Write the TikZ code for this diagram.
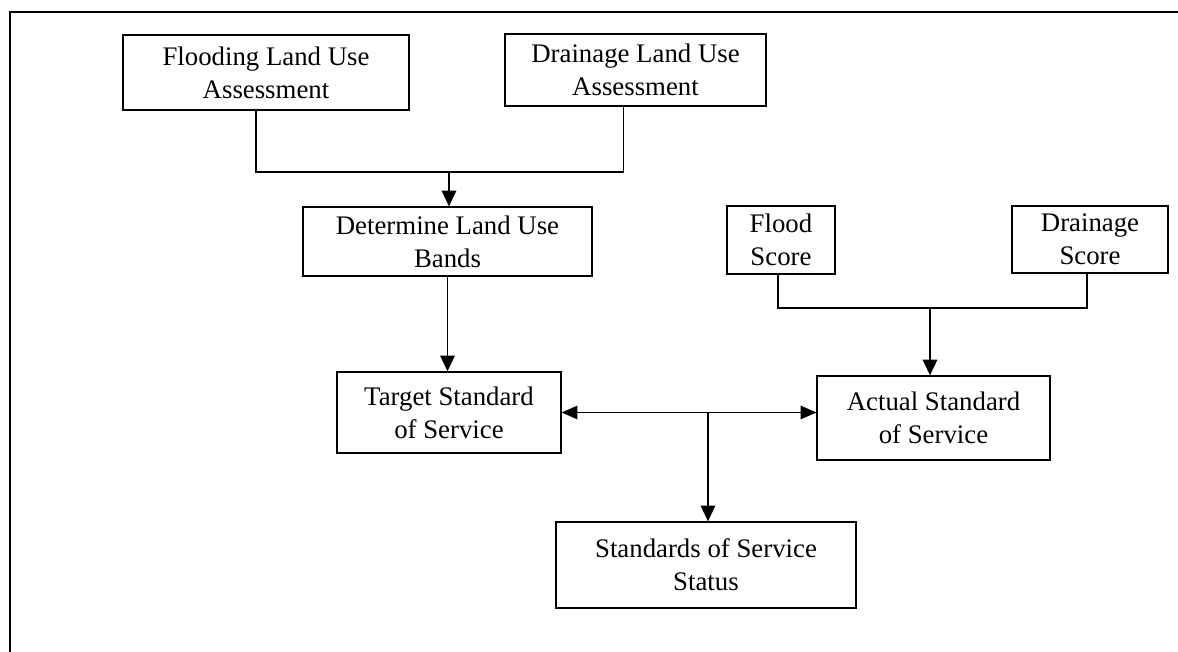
\documentclass[tikz,border=0pt]{standalone}
\usepackage{fontspec}
\setmainfont{Liberation Serif}
\usetikzlibrary{arrows.meta}

\begin{document}
\begin{tikzpicture}[x=0.4478pt,y=-0.4478pt,auto,
    box/.style={draw,rectangle,align=center,inner sep=1pt,line width=0.6pt,
      font=\fontsize{12}{14.8}\selectfont},
    arr/.style={line width=0.6pt,-{Triangle[length=7pt,width=6.5pt]}}]
        \useasboundingbox (0,0) rectangle (1178,652);
        \draw[line width=0.8pt] (10,652) -- (10,12) -- (1178,12);
        % land use side
        \node[box,minimum width=128.1pt,minimum height=33.6pt] (flu) at (266,72.5) {Flooding Land Use\\Assessment};
        \node[box,minimum width=116.9pt,minimum height=32.2pt] (dlu) at (635.5,70) {Drainage Land Use\\Assessment};
        \node[box,minimum width=129.4pt,minimum height=30.9pt] (det) at (447.5,241.5) {Determine Land Use\\Bands};
        \node[box,minimum width=100.3pt,minimum height=36.3pt] (tss) at (449,412.5) {Target Standard\\of Service};
        % score side
        \node[box,minimum width=48.4pt,minimum height=30.5pt] (fs) at (781,240) {Flood\\Score};
        \node[box,minimum width=69.9pt,minimum height=30pt] (ds) at (1090,239.5) {Drainage\\Score};
        \node[box,minimum width=104.3pt,minimum height=37.6pt] (ass) at (933.5,418) {Actual Standard\\of Service};
        \node[box,minimum width=134.3pt,minimum height=38.5pt] (sos) at (706,565) {Standards of Service\\Status};
        \coordinate (j1) at (449,172);
        \coordinate (j2) at (930,308);
        \coordinate (j3) at (708,412.5);
        \draw[line width=0.6pt] ([xshift=-4.5pt]flu.south) |- (j1) -| ([xshift=-5.4pt]dlu.south);
        \draw[line width=0.6pt] ([xshift=-1.3pt]fs.south) |- (j2) -| ([xshift=-1.3pt]ds.south);
        \path[arr]
          (j1) edge (j1 |- det.north)
          (det.south) edge (det.south |- tss.north)
          (j2) edge (j2 |- ass.north)
          (j3) edge (j3 |- sos.north);
        \draw[arr,{Triangle[length=7pt,width=6pt]}-{Triangle[length=7pt,width=6pt]}] (tss.east) -- (tss.east -| ass.west);
      \end{tikzpicture}
\end{document}
